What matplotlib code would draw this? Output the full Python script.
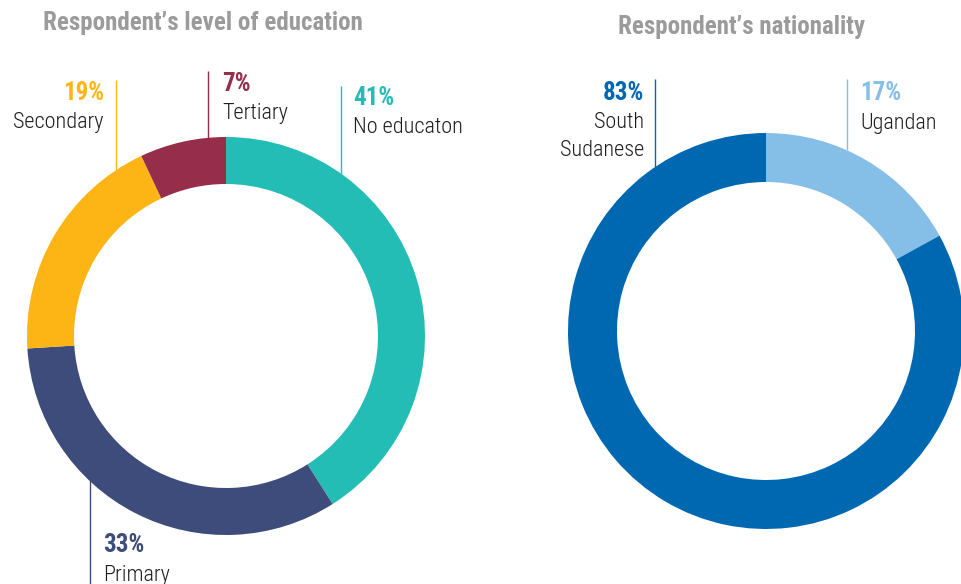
import matplotlib
matplotlib.use("Agg")
import matplotlib.pyplot as plt

# Education breakdown (clockwise from 12 o'clock)
edu_labels = ["No educaton", "Primary", "Secondary", "Tertiary"]
edu_values = [41, 33, 19, 7]
edu_colors = ["#24BDB6", "#3D4C7A", "#FDB515", "#962D4A"]

# Nationality breakdown (clockwise from 12 o'clock)
nat_labels = ["Ugandan", "South\nSudanese"]
nat_values = [17, 83]
nat_colors = ["#85BFE8", "#0068B1"]

FONT = ["Roboto Condensed", "Roboto", "DejaVu Sans"]
W, H = 961, 584

fig = plt.figure(figsize=(W / 100, H / 100), dpi=100)
ax = fig.add_axes([0, 0, 1, 1])


def py(y):
    # convert a top-down pixel row to axis y
    return H - y


def donut(values, colors, center, radius, width):
    ax.pie(values, colors=colors, startangle=90, counterclock=False,
           center=center, radius=radius, frame=True,
           wedgeprops=dict(width=width, linewidth=0))


donut(edu_values, edu_colors, (226, py(336)), 199, 47)
donut(nat_values, nat_colors, (766, py(331)), 198, 49)
ax.set_xlim(0, W)
ax.set_ylim(0, H)
ax.set_aspect("equal")
ax.axis("off")

title_kw = dict(family=FONT, fontstretch="condensed", fontweight="bold",
                fontsize=18, color="#9B9B9B", ha="center", va="baseline")
ax.text(203, py(30), "Respondent\u2019s level of education", **title_kw)
ax.text(742, py(34), "Respondent\u2019s nationality", **title_kw)


def callout(x_line, y0, y1, color, pct, name, tx, base, ha):
    ax.plot([x_line, x_line], [py(y0), py(y1)], color=color, lw=1.0,
            solid_capstyle="butt", zorder=0)
    ax.text(tx, py(base), f"{pct}%", family=FONT, fontstretch="condensed",
            fontweight="bold", fontsize=18, color=color, ha=ha, va="baseline")
    for i, line in enumerate(name.split("\n")):
        ax.text(tx, py(base + 28 + 27 * i), line, family=FONT,
                fontstretch="condensed", fontweight="light", fontsize=16,
                color="#1E1E1E", ha=ha, va="baseline")


callout(341, 86, 180, edu_colors[0], edu_values[0], edu_labels[0], 353, 105, "left")
callout(90, 480, 584, edu_colors[1], edu_values[1], edu_labels[1], 103, 552.5, "left")
callout(116, 80, 170, edu_colors[2], edu_values[2], edu_labels[2], 104, 100, "right")
callout(208, 71, 140, edu_colors[3], edu_values[3], edu_labels[3], 222, 91, "left")

callout(847, 79, 150, nat_colors[0], nat_values[0], nat_labels[0], 860, 100.5, "left")
callout(655, 79, 170, nat_colors[1], nat_values[1], nat_labels[1], 644, 100.5, "right")

fig.savefig("out.png", dpi=100, facecolor="white")
